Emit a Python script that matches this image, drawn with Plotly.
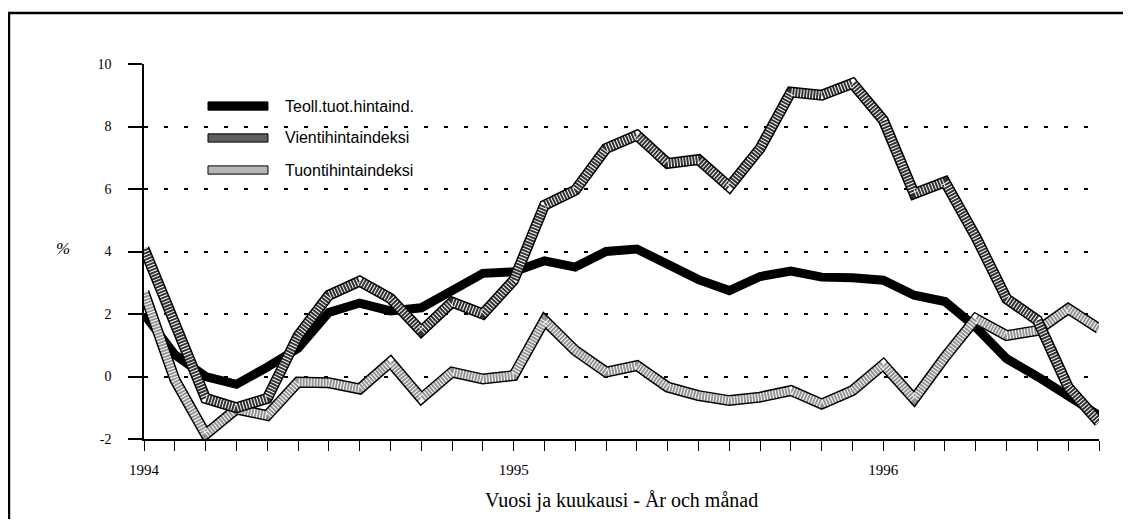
import plotly.graph_objects as go

# Months Jan 1994 .. Aug 1996
months = [f"{y}-{m:02d}" for y in (1994, 1995, 1996) for m in range(1, 13)][:32]
tick_text = [m[:4] if m.endswith("-01") else "" for m in months]

teoll = [2.0, 0.7, 0.0, -0.25, 0.3, 0.9, 2.05, 2.35, 2.1, 2.2, 2.75, 3.3,
         3.35, 3.7, 3.5, 4.0, 4.08, 3.6, 3.1, 2.75, 3.2, 3.37, 3.18, 3.16,
         3.08, 2.6, 2.4, 1.58, 0.57, 0.0, -0.66, -1.25]
vienti = [4.1, 1.65, -0.7, -1.0, -0.7, 1.3, 2.6, 3.05, 2.5, 1.45, 2.38, 2.0,
          3.08, 5.48, 5.96, 7.3, 7.72, 6.82, 6.94, 6.07, 7.3, 9.1, 9.0, 9.38,
          8.2, 5.85, 6.23, 4.47, 2.49, 1.8, -0.34, -1.46]
tuonti = [2.7, -0.1, -1.85, -1.04, -1.25, -0.18, -0.2, -0.4, 0.46, -0.7, 0.14, -0.08,
          0.03, 1.8, 0.83, 0.14, 0.35, -0.34, -0.61, -0.77, -0.66, -0.45, -0.88, -0.45,
          0.38, -0.72, 0.62, 1.85, 1.31, 1.47, 2.17, 1.53]

names = ["Teoll.tuot.hintaind.", "Vientihintaindeksi", "Tuontihintaindeksi"]
y_ticks = [-2, 0, 2, 4, 6, 8, 10]

SERIF = "Liberation Serif, Times New Roman, serif"
SANS = "Liberation Sans, Arial, sans-serif"

fig = go.Figure()

def add_line(y, color, width, dash="solid"):
    fig.add_trace(go.Scatter(x=months, y=y, mode="lines", showlegend=False,
                             hoverinfo="skip",
                             line=dict(color=color, width=width, dash=dash,
                                       shape="linear")))

# Teollisuus: solid black
add_line(teoll, "black", 9)
# Tuonti: light hatched band with outline
add_line(tuonti, "black", 11)
add_line(tuonti, "#939393", 8)
add_line(tuonti, "white", 8, "1px,2px")
# Vienti: dark hatched band with outline
add_line(vienti, "black", 11)
add_line(vienti, "#333333", 8)
add_line(vienti, "white", 8, "1px,2px")

# manual legend
rows = [0.888, 0.8027, 0.7173]
fills = ["black", "#5e5e5e", "#b5b5b5"]
for name, yy, fc in zip(names, rows, fills):
    fig.add_shape(type="rect", xref="paper", yref="paper",
                  x0=0.067, x1=0.1298, y0=yy - 0.011, y1=yy + 0.011,
                  fillcolor=fc, line=dict(color="black", width=1))
    fig.add_annotation(xref="paper", yref="paper", x=0.1455, y=yy,
                       xanchor="left", yanchor="middle", showarrow=False,
                       text=name, font=dict(family=SANS, size=16, color="black"))

# % label
fig.add_annotation(xref="paper", yref="paper", x=-0.0945, y=0.508,
                   showarrow=False, text="<i>%</i>",
                   font=dict(family=SERIF, size=17, color="black"))
# x title
fig.add_annotation(xref="paper", yref="paper", x=0.5, y=-0.163,
                   xanchor="center", yanchor="middle", showarrow=False,
                   text="Vuosi ja kuukausi - År och månad",
                   font=dict(family=SERIF, size=20, color="black"))

# outer frame (left and top edges visible)
fig.add_shape(type="rect", xref="paper", yref="paper",
              x0=-0.1414, x1=1.05, y0=-0.3, y1=1.136,
              line=dict(color="black", width=2.5), fillcolor="rgba(0,0,0,0)",
              layer="above")

fig.update_layout(
    width=1115, height=511,
    margin=dict(l=136, r=24, t=56, b=80),
    paper_bgcolor="white", plot_bgcolor="white",
    showlegend=False,
    xaxis=dict(type="category", range=[0, 31], tickmode="array",
               tickvals=months, ticktext=tick_text,
               showgrid=False, showline=True, linecolor="black", linewidth=1.5,
               ticks="outside", ticklen=10, tickwidth=1.2, tickcolor="black",
               ticklabelstandoff=6,
               tickfont=dict(family=SERIF, size=15, color="black"),
               zeroline=False),
    yaxis=dict(range=[-2, 10], tickmode="array", tickvals=y_ticks,
               ticktext=[str(v) for v in y_ticks],
               showgrid=True, gridcolor="black", gridwidth=1.5,
               griddash="4px,16px",
               showline=True, linecolor="black", linewidth=1.5,
               ticks="outside", ticklen=14, tickwidth=1.5, tickcolor="black",
               ticklabelstandoff=14,
               tickfont=dict(family=SERIF, size=14, color="black"),
               zeroline=False),
)

fig.write_html("out.html")
